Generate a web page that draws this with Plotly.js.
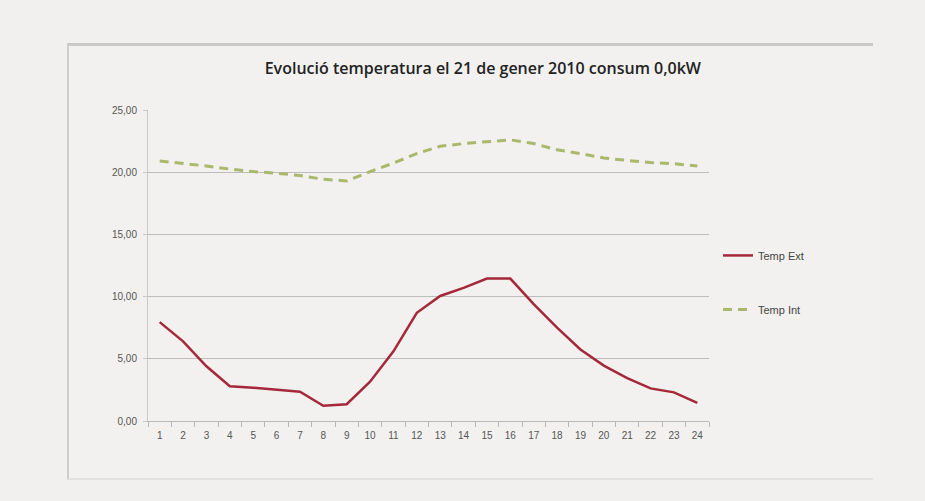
<!DOCTYPE html>
<html>
<head>
<meta charset="utf-8">
<script src="https://cdn.plot.ly/plotly-3.0.1.min.js"></script>
<style>
  html, body { margin:0; padding:0; background:#f1f0ee; width:925px; height:501px; overflow:hidden; }
  #frame { position:absolute; left:67px; top:43px; width:804px; height:432px;
           border-top:3px solid #c9c8c6; border-left:2px solid #cfcecc; border-bottom:2px solid #e3e2e0;
           background:#f2f1ef; }
  #chart { position:absolute; left:0; top:0; width:925px; height:501px; }
</style>
</head>
<body>
<div id="frame"></div>
<div id="chart"></div>
<script>
const hours = ["1","2","3","4","5","6","7","8","9","10","11","12","13","14","15","16","17","18","19","20","21","22","23","24"];
const tempExt = [7.95, 6.4, 4.4, 2.8, 2.68, 2.54, 2.35, 1.22, 1.35, 3.16, 5.6, 8.7, 10.05, 10.7, 11.45, 11.45, 9.4, 7.5, 5.75, 4.45, 3.45, 2.62, 2.3, 1.46];
const tempInt = [20.9, 20.73, 20.5, 20.25, 20.05, 19.92, 19.73, 19.43, 19.3, 20.05, 20.73, 21.5, 22.08, 22.3, 22.42, 22.6, 22.3, 21.8, 21.5, 21.14, 20.95, 20.78, 20.68, 20.5];
const yTicks = [0, 5, 10, 15, 20, 25];
const chartTitle = "Evolució temperatura el 21 de gener 2010 consum 0,0kW";

const traces = [
  { x: hours, y: tempExt, name: "Temp Ext", type: "scatter", mode: "lines",
    line: { color: "#a5283a", width: 2.5 }, legendgroup: "a" },
  { x: hours, y: tempInt, name: "Temp Int", type: "scatter", mode: "lines",
    line: { color: "#a9b96b", width: 3, dash: "9px,6px" }, legendgroup: "b" }
];

const layout = {
  width: 925, height: 501,
  paper_bgcolor: "rgba(0,0,0,0)", plot_bgcolor: "rgba(0,0,0,0)",
  margin: { l: 148, r: 216, t: 110, b: 80 },
  separators: ",.",
  font: { family: "Liberation Sans Narrow, Arial Narrow, sans-serif", color: "#555" },
  title: { text: chartTitle, x: 0.522, xref: "container", xanchor: "center",
           y: 0.864, yref: "container", yanchor: "middle",
           font: { family: "Open Sans, sans-serif", size: 16, color: "#222", weight: 600 } },
  xaxis: { type: "category", range: [-0.5, 23.5], showgrid: false, showline: true, linecolor: "#b8b8b8", linewidth: 1,
           ticks: "outside", tickson: "boundaries", ticklen: 5, tickcolor: "#b8b8b8", ticklabelstandoff: 5,
           tickfont: { size: 10, color: "#555" }, fixedrange: true, zeroline: false },
  yaxis: { range: [0, 25], tickvals: yTicks, tickformat: ".2f", showgrid: true, gridcolor: "#bdbdbd",
           gridwidth: 1.3, showline: true, linecolor: "#c8c8c8", ticks: "outside", ticklen: 4,
           ticklabelstandoff: 4,
           tickcolor: "#c8c8c8", tickfont: { size: 10, color: "#555" }, zeroline: false, fixedrange: true },
  showlegend: true,
  legend: { x: 1.016, xanchor: "left", y: 0.579, yanchor: "top", bgcolor: "rgba(0,0,0,0)",
            font: { size: 11, color: "#444" }, tracegroupgap: 35, itemwidth: 30 }
};

Plotly.newPlot("chart", traces, layout, { displayModeBar: false, staticPlot: true });
</script>
</body>
</html>
